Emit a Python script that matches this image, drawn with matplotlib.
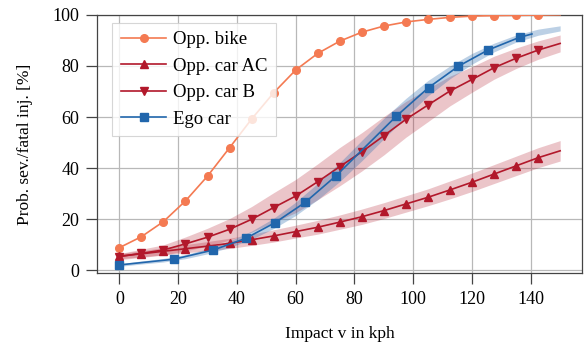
import matplotlib

matplotlib.use("Agg")

import matplotlib.pyplot as plt
import numpy as np

# ---------------------------------------------------------------------------
# Data (impact speed in kph, probability in %)
# ---------------------------------------------------------------------------
speed = np.arange(0, 150.1, 7.5)

bike = [8.9, 13.2, 19.1, 27.2, 36.9, 48.0, 59.2, 69.5, 78.4, 84.9, 89.7,
        93.2, 95.6, 97.2, 98.2, 99.0, 99.5, 99.7, 99.8, 99.9, 100.0]

car_ac = [5.6, 6.5, 7.5, 8.5, 9.5, 10.6, 12.0, 13.5, 15.2, 16.9, 18.9,
          21.0, 23.4, 26.0, 28.6, 31.5, 34.5, 37.7, 40.9, 44.1, 46.8]
car_ac_hw = [1.0, 1.2, 1.4, 1.6, 1.8, 2.0, 2.2, 2.4, 2.5, 2.7, 2.8,
             3.0, 3.1, 3.2, 3.3, 3.5, 3.6, 3.7, 3.8, 3.9, 4.0]

car_b = [5.4, 6.7, 8.0, 10.4, 13.0, 16.1, 20.0, 24.6, 29.1, 34.7, 40.6,
         46.4, 52.7, 59.1, 64.7, 70.2, 74.7, 79.3, 83.0, 86.2, 88.8]
car_b_hw = [1.2, 1.6, 2.0, 2.7, 3.5, 4.2, 5.0, 5.8, 6.5, 7.0, 7.5,
            7.5, 7.5, 7.0, 6.5, 5.8, 5.0, 4.5, 4.0, 3.6, 3.3]

ego_v = [0.0, 18.6, 32.0, 43.1, 53.0, 63.2, 73.7, 94.3, 105.2, 115.4,
         125.4, 136.2, 140.4]
ego = [2.15, 4.4, 8.0, 12.6, 18.7, 26.6, 37.0, 60.4, 71.5, 79.9,
       86.2, 91.2, 92.5]
ego_band = [2.1, 3.1, 4.0, 5.4, 7.5, 10.3, 13.8, 18.4, 24.1, 30.9, 38.5,
            46.9, 55.5, 63.7, 71.3, 77.5, 82.8, 87.2, 90.7, 93.2, 94.7]
ego_band_hw = [0.5, 0.6, 0.7, 0.8, 1.0, 1.3, 1.6, 2.0, 2.6, 3.2, 3.7,
               4.0, 4.0, 3.6, 3.0, 2.5, 2.1, 1.7, 1.4, 1.2, 1.0]

C_BIKE = "#f47a52"
C_CAR = "#b2182b"
C_EGO = "#2166ac"

plt.rcParams["font.family"] = ["Liberation Serif", "DejaVu Serif"]
plt.rcParams["font.size"] = 13

fig = plt.figure(figsize=(5.87, 3.43), dpi=100)
ax = fig.add_axes([0.1658, 0.2041, 0.826, 0.7527])

lo = np.array(car_ac) - np.array(car_ac_hw)
hi = np.array(car_ac) + np.array(car_ac_hw)
ax.fill_between(speed, lo, hi, color=C_CAR, alpha=0.25, lw=0, zorder=2)
lo = np.array(car_b) - np.array(car_b_hw)
hi = np.array(car_b) + np.array(car_b_hw)
ax.fill_between(speed, lo, hi, color=C_CAR, alpha=0.25, lw=0, zorder=2)
lo = np.array(ego_band) - np.array(ego_band_hw)
hi = np.array(ego_band) + np.array(ego_band_hw)
ax.fill_between(speed, lo, hi, color=C_EGO, alpha=0.3, lw=0, zorder=2)

marks = slice(0, 20)
ax.plot(speed, bike, color=C_BIKE, lw=1.2, marker="o", ms=5.5,
        markevery=marks, label="Opp. bike", zorder=3)
ax.plot(speed, car_ac, color=C_CAR, lw=1.2, marker="^", ms=5.5,
        markevery=marks, label="Opp. car AC", zorder=3)
ax.plot(speed, car_b, color=C_CAR, lw=1.2, marker="v", ms=5.5,
        markevery=marks, label="Opp. car B", zorder=3)
ax.plot(ego_v, ego, color=C_EGO, lw=1.2, marker="s", ms=5.5,
        markevery=slice(0, 12), label="Ego car", zorder=3)

ax.set_xlim(-7.5, 157.5)
ax.set_ylim(-1, 100)
ax.set_xticks(np.arange(0, 141, 20))
ax.set_yticks(np.arange(0, 101, 20))
ax.grid(True, color="#b8b8b8", lw=0.9)
ax.set_axisbelow(True)
ax.tick_params(direction="out", length=8, width=0.9, color="#444444",
               top=False, right=False, labelsize=13, pad=5)
for side in ax.spines.values():
    side.set_color("#444444")
    side.set_linewidth(0.9)

ax.set_xlabel("Impact v in kph", fontsize=12.5, labelpad=13)
ax.set_ylabel("Prob. sev./fatal inj. [%]", fontsize=12.5, labelpad=14)

leg = ax.legend(loc="upper left", bbox_to_anchor=(0.0305, 0.969),
                borderaxespad=0, fancybox=False, framealpha=0.8,
                edgecolor="#cccccc", fontsize=13.5, handlelength=2.45,
                borderpad=0.45, labelspacing=0.5, handletextpad=0.35)
leg.get_frame().set_linewidth(0.8)

fig.savefig("out.png", dpi=100)
